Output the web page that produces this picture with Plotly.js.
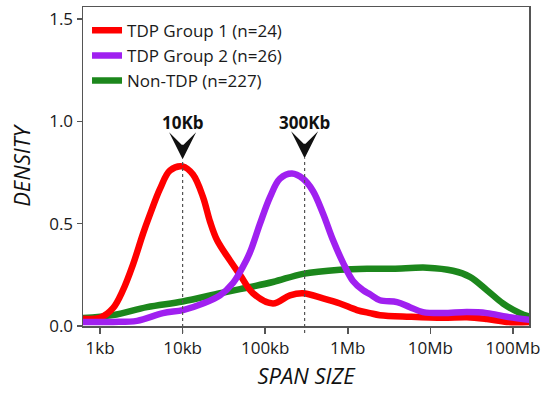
<!DOCTYPE html>
<html>
<head>
<meta charset="utf-8">
<script src="https://cdn.plot.ly/plotly-3.0.1.min.js"></script>
<style>
html,body{margin:0;padding:0;background:#fff;}
#chart{width:544px;height:394px;}
</style>
</head>
<body>
<div id="chart"></div>
<script>
// ---- data (span size in bp, density) ----
const seriesNames = ['TDP Group 1 (n=24)', 'TDP Group 2 (n=26)', 'Non-TDP (n=227)'];

const spanRed = [622, 1000, 1436, 1897, 2506, 3311, 4027, 5318, 7028, 10000,
  13370, 17660, 21480, 26080, 37480, 49550, 71150, 124200, 199500, 286600,
  500800, 804400, 1290000, 1860000, 2450000, 5660000, 14200000, 27700000, 48400000, 84500000,
  160000000];
const densRed = [0.035, 0.04, 0.087, 0.175, 0.30, 0.45, 0.545, 0.67, 0.76, 0.78,
  0.74, 0.63, 0.51, 0.42, 0.32, 0.25, 0.16, 0.11, 0.15, 0.16,
  0.135, 0.11, 0.078, 0.063, 0.053, 0.045, 0.04, 0.043, 0.034, 0.02,
  0.02];

const spanPurple = [622, 1436, 2806, 5794, 10120, 17660, 28400, 40750, 53830, 65460,
  86510, 114300, 151000, 210900, 286600, 378600, 500800, 661700, 874400, 1156000,
  1528000, 1860000, 2450000, 3940000, 5660000, 8130000, 14200000, 27700000, 48400000, 84500000,
  160000000];
const densPurple = [0.02, 0.02, 0.025, 0.063, 0.078, 0.11, 0.15, 0.21, 0.29, 0.36,
  0.50, 0.63, 0.72, 0.745, 0.72, 0.66, 0.55, 0.42, 0.31, 0.22,
  0.175, 0.155, 0.126, 0.117, 0.092, 0.068, 0.063, 0.068, 0.063, 0.045,
  0.03];

const spanGreen = [622, 1436, 3707, 10000, 28400, 49550, 124200, 286600, 804400, 1860000,
  3520000, 9100000, 18760000, 30100000, 48400000, 75700000, 121700000, 160000000];
const densGreen = [0.039, 0.053, 0.092, 0.12, 0.16, 0.18, 0.215, 0.255, 0.275, 0.28,
  0.28, 0.285, 0.27, 0.24, 0.175, 0.11, 0.063, 0.045];

const xTickVals = [1e3, 1e4, 1e5, 1e6, 1e7, 1e8];
const xTickText = ['1kb', '10kb', '100kb', '1Mb', '10Mb', '100Mb'];
const yTickVals = [0, 0.5, 1.0, 1.5];

const markLabels = ['10Kb', '300Kb'];
const markSpans = [1e4, 3e5];
const markTipDens = [0.815, 0.82];
const markLabelDens = 0.995;

// ---- chart ----
const FONT = 'Open Sans, Arial, sans-serif';
const colors = {red: '#ff0000', purple: '#a020f0', green: '#1c871c'};
const LW = 6.5;

const traces = [
  {x: spanGreen, y: densGreen, name: seriesNames[2], legendrank: 3, legendgroup: 'g3',
   mode: 'lines', line: {color: colors.green, width: LW, shape: 'spline', smoothing: 1}},
  {x: spanRed, y: densRed, name: seriesNames[0], legendrank: 1, legendgroup: 'g1',
   mode: 'lines', line: {color: colors.red, width: LW, shape: 'spline', smoothing: 1}},
  {x: spanPurple, y: densPurple, name: seriesNames[1], legendrank: 2, legendgroup: 'g2',
   mode: 'lines', line: {color: colors.purple, width: LW, shape: 'spline', smoothing: 1}}
];

const yMax = 1.559;
const annotations = [];
const shapes = [];
markLabels.forEach((lab, i) => {
  annotations.push({
    x: Math.log10(markSpans[i]), y: markLabelDens, xref: 'x', yref: 'y',
    text: '<b>' + lab + '</b>', showarrow: false,
    font: {family: FONT, size: 17, color: '#111'}
  });
  annotations.push({
    x: Math.log10(markSpans[i]), y: markTipDens[i], xref: 'x', yref: 'y',
    text: '', showarrow: true, ax: 0, ay: -14,
    arrowhead: 3, arrowsize: 4.5, arrowwidth: 1, arrowcolor: '#111', standoff: 0
  });
  shapes.push({
    type: 'line', xref: 'x', yref: 'paper',
    x0: markSpans[i], x1: markSpans[i], y0: -0.022, y1: markTipDens[i] / yMax,
    line: {color: '#555', width: 1.2, dash: 'dot'}, layer: 'above'
  });
});

const layout = {
  width: 544, height: 394,
  margin: {l: 83, r: 15, t: 7, b: 68},
  paper_bgcolor: '#fff', plot_bgcolor: '#fff',
  font: {family: FONT, color: '#1a1a1a'},
  showlegend: true,
  legend: {
    x: 0.009, y: 0.982, xanchor: 'left', yanchor: 'top',
    bgcolor: 'rgba(0,0,0,0)', font: {family: FONT, size: 17, color: '#1a1a1a'},
    traceorder: 'grouped', tracegroupgap: 0
  },
  xaxis: {
    type: 'log', range: [2.794, 8.194],
    tickvals: xTickVals, ticktext: xTickText,
    ticks: 'outside', ticklen: 6, tickwidth: 1.5, tickcolor: '#555',
    showline: true, linecolor: '#555', linewidth: 1.5, mirror: true,
    showgrid: false, zeroline: false,
    tickfont: {family: FONT, size: 17, color: '#1a1a1a'},
    title: {text: '<i>SPAN SIZE</i>', font: {family: FONT, size: 22, color: '#111'}, standoff: 10}
  },
  yaxis: {
    range: [0, yMax],
    tickvals: yTickVals, tickformat: '.1f',
    ticks: 'outside', ticklen: 5, tickwidth: 1.5, tickcolor: '#555',
    showline: true, linecolor: '#555', linewidth: 1.5, mirror: true,
    showgrid: false, zeroline: false,
    tickfont: {family: FONT, size: 17, color: '#1a1a1a'},
    title: {text: '<i>DENSITY</i>', font: {family: FONT, size: 22, color: '#111'}, standoff: 12}
  },
  annotations: annotations,
  shapes: shapes
};

Plotly.newPlot('chart', traces, layout, {displayModeBar: false, staticPlot: true});
</script>
</body>
</html>
